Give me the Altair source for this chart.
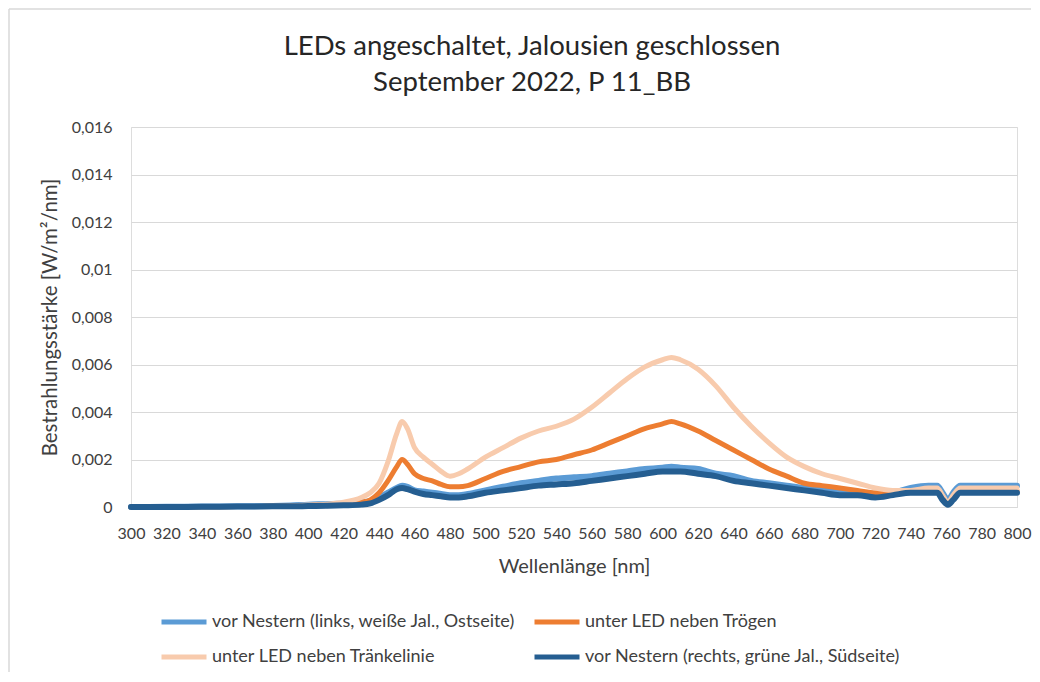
import altair as alt
import pandas as pd

WL = [300, 320, 340, 360, 380, 390, 400, 410, 420, 430, 435, 440, 445, 450, 453, 456, 460, 465,
      470, 475, 480, 485, 490, 500, 510, 520, 530, 540, 550, 560, 570, 580, 590, 600, 605, 610,
      620, 630, 640, 650, 660, 670, 680, 690, 700, 710, 720, 730, 740, 750, 755, 758, 761, 764,
      768, 780, 800]

S_LINKS = "vor Nestern (links, weiße Jal., Ostseite)"
S_TROEG = "unter LED neben Trögen"
S_TRAENK = "unter LED neben Tränkelinie"
S_RECHTS = "vor Nestern (rechts, grüne Jal., Südseite)"
# drawing order (Excel series order)
SERIES = [S_LINKS, S_TROEG, S_TRAENK, S_RECHTS]
WIDTHS = [6, 5, 5, 6]
# legend order (column-major fill)
LEGEND_ORDER = [S_LINKS, S_TRAENK, S_TROEG, S_RECHTS]
LEGEND_COLORS = ["#5B9BD5", "#F8CBAD", "#ED7D31", "#255E91"]

links = [0, 0.00001, 0.00002, 0.00003, 0.00004, 0.00006, 0.0001, 0.00012, 0.00015, 0.0002, 0.00025,
         0.0004, 0.0006, 0.0008, 0.0009, 0.00085, 0.0007, 0.00065, 0.0006, 0.00055, 0.0005, 0.0005,
         0.00055, 0.0007, 0.00085, 0.001, 0.0011, 0.0012, 0.00125, 0.0013, 0.0014, 0.0015, 0.0016,
         0.00165, 0.0017, 0.00165, 0.0016, 0.0014, 0.0013, 0.0011, 0.001, 0.0009, 0.0008, 0.00075,
         0.00065, 0.0006, 0.0005, 0.0006, 0.0008, 0.0009, 0.0009, 0.0006, 0.0003, 0.0006, 0.0009,
         0.0009, 0.0009]
troegen = [0, 0, 0.00001, 0.00002, 0.00003, 0.00004, 0.00006, 0.0001, 0.00012, 0.0002, 0.0003,
           0.0006, 0.0011, 0.0017, 0.0020, 0.0018, 0.0014, 0.0012, 0.0011, 0.00095, 0.00085, 0.00085,
           0.0009, 0.0012, 0.0015, 0.0017, 0.0019, 0.002, 0.0022, 0.0024, 0.0027, 0.003, 0.0033,
           0.0035, 0.0036, 0.0035, 0.0032, 0.0028, 0.0024, 0.002, 0.0016, 0.0013, 0.001, 0.0009,
           0.0008, 0.0007, 0.0006, 0.0006, 0.0007, 0.0007, 0.0007, 0.0004, 0.0002, 0.0004, 0.0007,
           0.0007, 0.0007]
traenke = [0, 0, 0.00001, 0.00002, 0.00003, 0.00005, 0.00008, 0.00012, 0.0002, 0.0004, 0.0006,
           0.001, 0.0019, 0.0031, 0.0036, 0.0033, 0.0025, 0.0021, 0.0018, 0.0015, 0.0013, 0.0014,
           0.0016, 0.0021, 0.0025, 0.0029, 0.0032, 0.0034, 0.0037, 0.0042, 0.0048, 0.0054, 0.0059,
           0.0062, 0.0063, 0.0062, 0.0058, 0.0051, 0.0042, 0.0034, 0.0027, 0.0021, 0.0017, 0.0014,
           0.0012, 0.001, 0.0008, 0.0007, 0.0007, 0.0008, 0.0008, 0.0005, 0.0002, 0.0005, 0.0008,
           0.0008, 0.0008]
rechts = [0, 0, 0.00001, 0.00002, 0.00003, 0.00003, 0.00004, 0.00005, 0.00007, 0.0001, 0.00015,
          0.0003, 0.0005, 0.00075, 0.0008, 0.00075, 0.00065, 0.00055, 0.0005, 0.00045, 0.0004, 0.0004,
          0.00045, 0.0006, 0.0007, 0.0008, 0.0009, 0.00095, 0.001, 0.0011, 0.0012, 0.0013, 0.0014,
          0.0015, 0.0015, 0.0015, 0.0014, 0.0013, 0.0011, 0.001, 0.0009, 0.0008, 0.0007, 0.0006,
          0.0005, 0.0005, 0.0004, 0.0005, 0.0006, 0.0006, 0.0006, 0.0003, 0.0001, 0.0003, 0.0006,
          0.0006, 0.0006]

Y_TICKS = [0, 0.002, 0.004, 0.006, 0.008, 0.01, 0.012, 0.014, 0.016]
X_TICKS = list(range(300, 801, 20))

rows = []
for name, vals in zip(SERIES, [links, troegen, traenke, rechts]):
    for w, v in zip(WL, vals):
        rows.append({"wl": w, "val": v, "serie": name})
df = pd.DataFrame(rows)

W, H = 886, 380
FONT = "Lato"

color = alt.Color(
    "serie:N",
    scale=alt.Scale(domain=LEGEND_ORDER, range=LEGEND_COLORS),
    legend=alt.Legend(
        title=None, orient="none", legendX=28, legendY=470, columns=2,
        columnPadding=8, rowPadding=-6, symbolType="stroke", symbolSize=2025,
        symbolStrokeWidth=5, labelFont=FONT, labelFontSize=18, labelColor="#404040",
        labelLimit=600, labelOffset=3, symbolOpacity=1,
    ),
)

x = alt.X("wl:Q", title="Wellenlänge [nm]",
          scale=alt.Scale(domain=[300, 800], nice=False, zero=False),
          axis=alt.Axis(values=X_TICKS, grid=False, ticks=False, domain=True,
                        domainColor="#D9D9D9", labelFontSize=16, labelPadding=18,
                        labelFont=FONT, labelColor="#404040", titleFont=FONT,
                        titleFontSize=20, titleFontWeight="normal", titleColor="#404040",
                        titleX=W / 2, titleY=59, titleBaseline="middle",
                        labelFlush=False, labelOverlap=False))
y = alt.Y("val:Q", title="Bestrahlungsstärke [W/m²/nm]",
          scale=alt.Scale(domain=[0, 0.016], nice=False),
          axis=alt.Axis(values=Y_TICKS, grid=True, gridColor="#D9D9D9", ticks=False,
                        domain=False, labelFont=FONT, labelFontSize=16, labelColor="#404040",
                        labelPadding=19,
                        labelExpr="replace(format(datum.value, '~r'), '.', ',')",
                        titleFont=FONT, titleFontSize=20.5, titleFontWeight="normal",
                        titleColor="#404040", titleX=-81, titleY=H / 2, titleAngle=270,
                        titleBaseline="middle", titleAlign="center"))

layers = []
for name, sw in zip(SERIES, WIDTHS):
    layers.append(
        alt.Chart(df).transform_filter(alt.datum.serie == name)
        .mark_line(strokeWidth=sw, interpolate="monotone", strokeCap="round", strokeJoin="round")
        .encode(x=x, y=y, color=color)
    )

frame_df = pd.DataFrame({"k": [0]})
top_rule = alt.Chart(frame_df).mark_rule(color="#D9D9D9", strokeWidth=1.5).encode(
    x=alt.value(-122), x2=alt.value(W + 14), y=alt.value(-118))
left_rule = alt.Chart(frame_df).mark_rule(color="#D9D9D9", strokeWidth=1.5).encode(
    x=alt.value(-122), y=alt.value(-118), y2=alt.value(H + 165))

chart = alt.layer(top_rule, left_rule, *layers).properties(
    width=W, height=H,
    autosize=alt.AutoSizeParams(type="none"),
    padding={"left": 123, "top": 119, "right": 15, "bottom": 165},
    title=alt.TitleParams(
        text=["LEDs angeschaltet, Jalousien geschlossen", "September 2022, P 11_BB"],
        font=FONT, fontSize=27.5, fontWeight="normal", color="#262626",
        anchor="start", align="center", dx=401, lineHeight=36, offset=-88, frame="group"),
).configure_view(stroke=None).configure(background="white")

chart.save("out.html", embed_options={"renderer": "svg", "actions": False})
